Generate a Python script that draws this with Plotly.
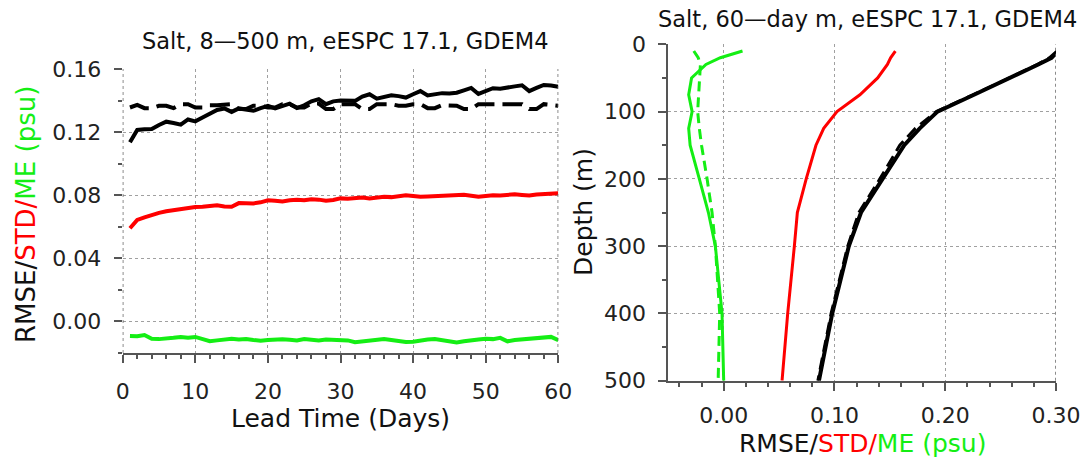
import plotly.graph_objects as go

W, H = 1081, 457

# ---------------- data: left panel (lead time series) ----------------
lead_days = list(range(1, 61))
rmse_fcst = [0.1136, 0.1214, 0.1218, 0.1220, 0.1245, 0.1266, 0.1258, 0.1247, 0.1280, 0.1268,
             0.1292, 0.1314, 0.1340, 0.1350, 0.1328, 0.1350, 0.1345, 0.1335, 0.1352, 0.1367,
             0.1350, 0.1365, 0.1380, 0.1352, 0.1370, 0.1395, 0.1409, 0.1377, 0.1395, 0.1400,
             0.1400, 0.1398, 0.1425, 0.1440, 0.1412, 0.1422, 0.1434, 0.1428, 0.1419, 0.1440,
             0.1460, 0.1432, 0.1440, 0.1447, 0.1445, 0.1450, 0.1465, 0.1480, 0.1442, 0.1460,
             0.1478, 0.1475, 0.1480, 0.1490, 0.1497, 0.1460, 0.1480, 0.1499, 0.1495, 0.1488]
rmse_ref = [0.1356, 0.1373, 0.1352, 0.1352, 0.1367, 0.1367, 0.1352, 0.1377, 0.1377, 0.1356,
            0.1356, 0.1371, 0.1371, 0.1371, 0.1377, 0.1346, 0.1346, 0.1367, 0.1367, 0.1356,
            0.1356, 0.1377, 0.1377, 0.1356, 0.1356, 0.1381, 0.1381, 0.1346, 0.1346, 0.1377,
            0.1377, 0.1377, 0.1346, 0.1346, 0.1377, 0.1377, 0.1377, 0.1367, 0.1367, 0.1377,
            0.1377, 0.1352, 0.1352, 0.1371, 0.1371, 0.1367, 0.1346, 0.1346, 0.1377, 0.1377,
            0.1377, 0.1377, 0.1377, 0.1377, 0.1377, 0.1346, 0.1346, 0.1377, 0.1372, 0.1367]
std_fcst = [0.0591, 0.0643, 0.0660, 0.0675, 0.0688, 0.0698, 0.0706, 0.0712, 0.0723, 0.0725,
            0.0727, 0.0731, 0.0737, 0.0729, 0.0727, 0.0750, 0.0749, 0.0748, 0.0755, 0.0768,
            0.0765, 0.0760, 0.0768, 0.0772, 0.0768, 0.0775, 0.0772, 0.0765, 0.0770, 0.0780,
            0.0778, 0.0782, 0.0785, 0.0780, 0.0786, 0.0790, 0.0788, 0.0794, 0.0800, 0.0795,
            0.0790, 0.0792, 0.0795, 0.0798, 0.0796, 0.0800, 0.0803, 0.0797, 0.0790, 0.0795,
            0.0800, 0.0798, 0.0803, 0.0806, 0.0802, 0.0798, 0.0805, 0.0808, 0.0810, 0.0812]
me_fcst = [-0.0093, -0.0094, -0.0086, -0.0110, -0.0112, -0.0110, -0.0104, -0.0098, -0.0103, -0.0098,
           -0.0112, -0.0125, -0.0120, -0.0115, -0.0110, -0.0115, -0.0112, -0.0118, -0.0122, -0.0118,
           -0.0115, -0.0113, -0.0116, -0.0120, -0.0112, -0.0115, -0.0120, -0.0114, -0.0118, -0.0116,
           -0.0120, -0.0132, -0.0126, -0.0120, -0.0114, -0.0112, -0.0118, -0.0125, -0.0130, -0.0128,
           -0.0120, -0.0115, -0.0112, -0.0118, -0.0122, -0.0133, -0.0126, -0.0118, -0.0114, -0.0110,
           -0.0112, -0.0104, -0.0126, -0.0118, -0.0114, -0.0116, -0.0112, -0.0108, -0.0098, -0.0118]

# ---------------- data: right panel (profiles) ----------------
depth = [10, 20, 30, 50, 75, 100, 125, 150, 200, 250, 300, 400, 500]
prof_rmse = [0.302, 0.296, 0.284, 0.259, 0.226, 0.193, 0.177, 0.163, 0.144, 0.124, 0.113, 0.098, 0.086]
prof_rmse_ref = [0.301, 0.294, 0.283, 0.258, 0.225, 0.192, 0.173, 0.159, 0.141, 0.122, 0.112, 0.097, 0.085]
prof_std = [0.155, 0.1507, 0.1478, 0.139, 0.123, 0.1023, 0.0903, 0.0833, 0.0745, 0.0665, 0.0638, 0.0578, 0.0527]
prof_me = [0.017, -0.003, -0.016, -0.029, -0.0316, -0.0285, -0.0316, -0.0303, -0.022, -0.0138, -0.0075, -0.0015, 0.000]
prof_me_ref = [-0.027, -0.023, -0.021, -0.0217, -0.0232, -0.0235, -0.022, -0.020, -0.015, -0.0105, -0.0075, -0.0036, -0.005]

left_title = "Salt, 8\u2014500 m, eESPC 17.1, GDEM4"
right_title = "Salt, 60\u2014day m, eESPC 17.1, GDEM4"

GREEN = "#14ee14"
RED = "#ff0000"
AX = "#555555"
FONT = "DejaVu Sans"


def px_x(p):
    return p / W


def px_y(p):
    return 1 - p / H


fig = go.Figure()

# left panel traces
fig.add_trace(go.Scatter(x=lead_days, y=rmse_ref, mode="lines",
                         line=dict(color="black", width=4, dash="20px,8px"), xaxis="x", yaxis="y"))
fig.add_trace(go.Scatter(x=lead_days, y=rmse_fcst, mode="lines",
                         line=dict(color="black", width=4), xaxis="x", yaxis="y"))
fig.add_trace(go.Scatter(x=lead_days, y=std_fcst, mode="lines",
                         line=dict(color=RED, width=4), xaxis="x", yaxis="y"))
fig.add_trace(go.Scatter(x=lead_days, y=me_fcst, mode="lines",
                         line=dict(color=GREEN, width=4), xaxis="x", yaxis="y"))

# right panel traces
fig.add_trace(go.Scatter(x=prof_rmse, y=depth, mode="lines",
                         line=dict(color="black", width=4), xaxis="x2", yaxis="y2"))
fig.add_trace(go.Scatter(x=prof_rmse_ref, y=depth, mode="lines",
                         line=dict(color="black", width=3, dash="12px,6px"), xaxis="x2", yaxis="y2"))
fig.add_trace(go.Scatter(x=prof_std, y=depth, mode="lines",
                         line=dict(color=RED, width=3), xaxis="x2", yaxis="y2"))
fig.add_trace(go.Scatter(x=prof_me, y=depth, mode="lines",
                         line=dict(color=GREEN, width=3), xaxis="x2", yaxis="y2"))
fig.add_trace(go.Scatter(x=prof_me_ref, y=depth, mode="lines",
                         line=dict(color=GREEN, width=3, dash="10px,6px"), xaxis="x2", yaxis="y2"))

tickfont = dict(family=FONT, size=22, color="#222222")
grid = dict(showgrid=True, griddash="dot", gridcolor="#a0a0a0", gridwidth=1)

L_dom_x = [px_x(122.7), px_x(558.3)]
L_dom_y = [px_y(353), px_y(69)]
R_dom_x = [px_x(668.3), px_x(1056)]
R_dom_y = [px_y(380.7), px_y(44.3)]

common_tick = dict(ticks="outside", ticklen=8, tickwidth=2, tickcolor=AX, automargin=False)

fig.update_layout(
    template="none",
    width=W, height=H,
    margin=dict(l=0, r=0, t=0, b=0, autoexpand=False),
    paper_bgcolor="white", plot_bgcolor="white",
    showlegend=False,
    # ---- left panel axes ----
    xaxis=dict(domain=L_dom_x, anchor="y", range=[0, 60], side="bottom",
               showline=True, linewidth=2, linecolor=AX, zeroline=False,
               tick0=0, dtick=10, tickfont=tickfont, ticklabelstandoff=10,
               minor=dict(dtick=2, ticks="outside", ticklen=4, tickwidth=2, tickcolor=AX, showgrid=False),
               **common_tick, **grid),
    xaxis3=dict(overlaying="x", anchor="y", side="top", range=[0, 60],
                showline=True, linewidth=2, linecolor=AX, zeroline=False,
                tick0=0, dtick=10, showticklabels=False, showgrid=False,
                minor=dict(dtick=2, ticks="outside", ticklen=4, tickwidth=2, tickcolor=AX, showgrid=False),
                **common_tick),
    yaxis=dict(domain=L_dom_y, anchor="x", range=[-0.02, 0.16],
               showline=False, zeroline=False,
               tick0=0, dtick=0.04, tickformat=".2f", tickfont=tickfont, ticklabelstandoff=8,
               minor=dict(tick0=0, dtick=0.02, ticks="outside", ticklen=4, tickwidth=2, tickcolor=AX, showgrid=False),
               **common_tick, **grid),
    yaxis3=dict(overlaying="y", anchor="x", side="right", range=[-0.02, 0.16],
                showline=False, zeroline=False, showgrid=False,
                tick0=0, dtick=0.04, showticklabels=False,
                minor=dict(tick0=0, dtick=0.02, ticks="outside", ticklen=4, tickwidth=2, tickcolor=AX, showgrid=False),
                **common_tick),
    # ---- right panel axes ----
    xaxis2=dict(domain=R_dom_x, anchor="y2", range=[-0.05, 0.30], side="bottom",
                showline=True, linewidth=2, linecolor=AX, zeroline=False,
                tick0=0, dtick=0.1, tickformat=".2f", tickfont=tickfont, ticklabelstandoff=6,
                minor=dict(tick0=0, dtick=0.02, ticks="outside", ticklen=4, tickwidth=2, tickcolor=AX, showgrid=False),
                **common_tick, **grid),
    xaxis4=dict(overlaying="x2", anchor="y2", side="top", range=[-0.05, 0.30],
                showline=True, linewidth=2, linecolor=AX, zeroline=False, showgrid=False,
                tick0=0, dtick=0.1, showticklabels=False,
                minor=dict(tick0=0, dtick=0.02, ticks="outside", ticklen=4, tickwidth=2, tickcolor=AX, showgrid=False),
                **common_tick),
    yaxis2=dict(domain=R_dom_y, anchor="x2", range=[500, 0],
                showline=True, linewidth=2, linecolor=AX, zeroline=False,
                tick0=0, dtick=100, tickfont=tickfont, ticklabelstandoff=8,
                minor=dict(tick0=0, dtick=50, ticks="outside", ticklen=4, tickwidth=2, tickcolor=AX, showgrid=False),
                **common_tick, **grid),
    yaxis4=dict(overlaying="y2", anchor="x2", side="right", range=[500, 0],
                showline=False, zeroline=False, showgrid=False,
                tick0=0, dtick=100, showticklabels=False,
                minor=dict(tick0=0, dtick=50, ticks="outside", ticklen=4, tickwidth=2, tickcolor=AX, showgrid=False),
                **common_tick),
)

# dotted frame sides
edge = dict(color="#666666", width=1.5, dash="dot")
fig.add_shape(type="line", xref="x", yref="y domain", x0=0, x1=0, y0=0, y1=1, line=edge)
fig.add_shape(type="line", xref="x", yref="y domain", x0=60, x1=60, y0=0, y1=1, line=edge)
fig.add_shape(type="line", xref="x2", yref="y2 domain", x0=0.30, x1=0.30, y0=0, y1=1, line=edge)

title_font = dict(family=FONT, size=22.5, color="#111111")
lab_font = dict(family=FONT, size=25, color="#111111")
ylab_font = dict(family=FONT, size=26, color="#111111")
multi = ('RMSE/<span style="color:%s">STD/</span><span style="color:%s">ME (psu)</span>' % (RED, GREEN))

ann = [
    dict(text=left_title, x=px_x(345), y=px_y(41), font=title_font),
    dict(text=right_title, x=px_x(867), y=px_y(19), font=title_font),
    dict(text="Lead Time (Days)", x=px_x(340), y=px_y(418), font=lab_font),
    dict(text=multi, x=px_x(862), y=px_y(443), font=lab_font),
    dict(text=multi, x=px_x(26), y=px_y(215), font=ylab_font, textangle=-90),
    dict(text="Depth (m)", x=px_x(583), y=px_y(212), font=lab_font, textangle=-90),
]
for a in ann:
    fig.add_annotation(xref="paper", yref="paper", showarrow=False,
                       xanchor="center", yanchor="middle", **a)

fig.write_html("out.html")
